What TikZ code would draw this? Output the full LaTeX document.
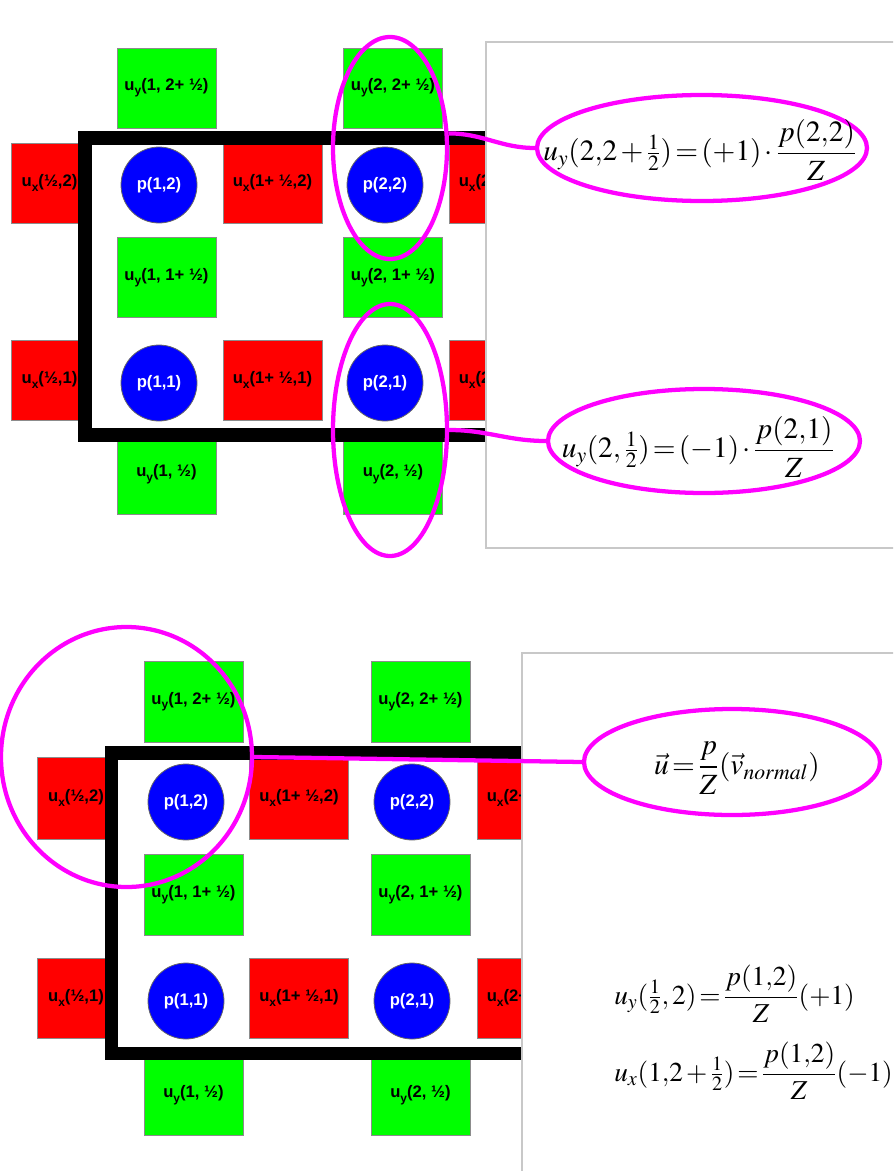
\documentclass[tikz,border=0pt]{standalone}
\usepackage{amsmath}
\usepackage{mathptmx}
\usepackage[no-math]{fontspec}
\newfontfamily\labfont{Liberation Sans}
\usetikzlibrary{shapes.geometric}

\definecolor{cellgreen}{RGB}{0,255,0}
\definecolor{cellred}{RGB}{255,0,0}
\definecolor{cellblue}{RGB}{0,0,255}
\definecolor{hlmag}{RGB}{255,0,255}
\definecolor{panelgray}{RGB}{200,200,200}

% lowered small index inside the sans labels
\newcommand\lsub[1]{\raisebox{-0.5ex}{\fontsize{9}{9}\selectfont #1}}
% tighter math spacing for the formulas
\newcommand\tightmath{\thickmuskip=2mu\medmuskip=2mu}

\tikzset{
  labtext/.style={font=\labfont\bfseries\fontsize{12.5}{14}\selectfont},
  gbox/.style={rectangle, fill=cellgreen, draw=black!45, line width=0.6pt,
    minimum width=99*0.75pt, minimum height=80*0.75pt, inner sep=0pt, labtext},
  rbox/.style={rectangle, fill=cellred, draw=black!45, line width=0.6pt,
    minimum width=99*0.75pt, minimum height=80*0.75pt, inner sep=0pt, labtext},
  pcirc/.style={circle, fill=cellblue, draw=black!60, line width=0.6pt,
    minimum size=76*0.75pt, inner sep=0pt, text=white, labtext},
  frameline/.style={line width=10pt, line join=miter},
  panel/.style={fill=white, draw=panelgray, line width=1.2pt},
  hl/.style={ellipse, draw=hlmag, line width=3.2pt, inner sep=0pt},
  link/.style={draw=hlmag, line width=3.2pt},
  eqtext/.style={inner sep=0pt, font=\fontsize{22}{27}\selectfont\tightmath},
  eqsmall/.style={inner sep=0pt, font=\fontsize{20.5}{25}\selectfont\tightmath},
}

\begin{document}
\begin{tikzpicture}[x=0.75pt,y=-0.75pt]
\useasboundingbox (0,0) rectangle (893,1171);
\clip (0,0) rectangle (893,1171);

%% ---------------- upper grid ----------------
\node[gbox] (a-uy12h) at (166.5,88) {u\lsub{y}(1, 2+ ½)};
\node[gbox] (a-uy22h) at (393,88) {u\lsub{y}(2, 2+ ½)};
\node[rbox, minimum width=77*0.75pt] (a-uxh2) at (49.5,183) {u\lsub{x}(½,2)};
\node[rbox] (a-ux1h2) at (272.5,183) {u\lsub{x}(1+ ½,2)};
\node[rbox] (a-ux2h2) at (498.5,183) {u\lsub{x}(2+ ½,2)};
\node[gbox] (a-uy11h) at (166.5,277.5) {u\lsub{y}(1, 1+ ½)};
\node[gbox] (a-uy21h) at (393,277.5) {u\lsub{y}(2, 1+ ½)};
\node[rbox, minimum width=77*0.75pt] (a-uxh1) at (49.5,380) {u\lsub{x}(½,1)};
\node[rbox] (a-ux1h1) at (272.5,380) {u\lsub{x}(1+ ½,1)};
\node[rbox] (a-ux2h1) at (498.5,380) {u\lsub{x}(2+ ½,1)};
\node[gbox] (a-uy1h) at (166.5,474) {u\lsub{y}(1, ½)};
\node[gbox] (a-uy2h) at (393,474) {u\lsub{y}(2, ½)};

\draw[frameline] (85,138) rectangle (560,435);

\node[pcirc] (a-p12) at (159,185) {p(1,2)};
\node[pcirc] (a-p22) at (385,185) {p(2,2)};
\node[pcirc] (a-p11) at (159,383) {p(1,1)};
\node[pcirc] (a-p21) at (385,383) {p(2,1)};

\draw[panel] (486,42) rectangle (910,548);

\node[hl, minimum width=114*0.75pt, minimum height=222*0.75pt] (a-hltop) at (390,148) {};
\node[hl, minimum width=114*0.75pt, minimum height=252*0.75pt] (a-hlbot) at (390,430) {};
\node[hl, minimum width=330*0.75pt, minimum height=106*0.75pt] (a-eqtop) at (702,148) {};
\node[hl, minimum width=312*0.75pt, minimum height=104*0.75pt] (a-eqbot) at (704,441) {};
\node[eqtext] at (700,150) {$\displaystyle u_y(2{,}2+\tfrac{1}{2})=(+1)\cdot\frac{p(2{,}2)}{Z}$};
\node[eqtext] at (698,447) {$\displaystyle u_y(2,\tfrac{1}{2})=(-1)\cdot\frac{p(2{,}1)}{Z}$};

\draw[link] (a-hltop.14) to[out=0,in=180] (a-eqtop.west);
\draw[link] (a-hlbot.east) to[out=0,in=180] (a-eqbot.west);

%% ---------------- lower grid ----------------
\node[gbox, minimum height=81*0.75pt] (b-uy12h) at (193.5,701.5) {u\lsub{y}(1, 2+ ½)};
\node[gbox, minimum height=81*0.75pt] (b-uy22h) at (420.5,701.5) {u\lsub{y}(2, 2+ ½)};
\node[rbox, minimum width=78*0.75pt, minimum height=82*0.75pt] (b-uxh2) at (76,798) {u\lsub{x}(½,2)};
\node[rbox, minimum height=82*0.75pt] (b-ux1h2) at (299,798) {u\lsub{x}(1+ ½,2)};
\node[rbox, minimum height=82*0.75pt] (b-ux2h2) at (526.5,798) {u\lsub{x}(2+ ½,2)};
\node[gbox, minimum height=81*0.75pt] (b-uy11h) at (193.5,894.5) {u\lsub{y}(1, 1+ ½)};
\node[gbox, minimum height=81*0.75pt] (b-uy21h) at (420.5,894.5) {u\lsub{y}(2, 1+ ½)};
\node[rbox, minimum width=78*0.75pt] (b-uxh1) at (76,998) {u\lsub{x}(½,1)};
\node[rbox] (b-ux1h1) at (299,998) {u\lsub{x}(1+ ½,1)};
\node[rbox] (b-ux2h1) at (526.5,998) {u\lsub{x}(2+ ½,1)};
\node[gbox] (b-uy1h) at (193.5,1095) {u\lsub{y}(1, ½)};
\node[gbox] (b-uy2h) at (420.5,1095) {u\lsub{y}(2, ½)};

\draw[frameline] (111.5,753) rectangle (600,1053.5);

\node[pcirc] (b-p12) at (186,802) {p(1,2)};
\node[pcirc] (b-p22) at (412,802) {p(2,2)};
\node[pcirc] (b-p11) at (186,1001) {p(1,1)};
\node[pcirc] (b-p21) at (412,1001) {p(2,1)};

\draw[panel] (522,653) rectangle (910,1190);

\node[hl, minimum width=251*0.75pt, minimum height=260*0.75pt] (b-hlcorner) at (126.5,757) {};
\node[hl, minimum width=296*0.75pt, minimum height=106*0.75pt] (b-eqvec) at (732,762) {};
\node[eqtext] at (737,768) {$\displaystyle \vec{u}=\frac{p}{Z}(\vec{v}_{normal})$};
\draw[link] (b-hlcorner.east) -- (b-eqvec.west);

\node[eqsmall, anchor=west] (b-eqy) at (614,994) {$\displaystyle u_y(\tfrac{1}{2},2)=\frac{p(1{,}2)}{Z}(+1)$};
\node[eqsmall, anchor=west] (b-eqx) at (614,1071) {$\displaystyle u_x(1{,}2+\tfrac{1}{2})=\frac{p(1{,}2)}{Z}(-1)$};
\end{tikzpicture}
\end{document}
